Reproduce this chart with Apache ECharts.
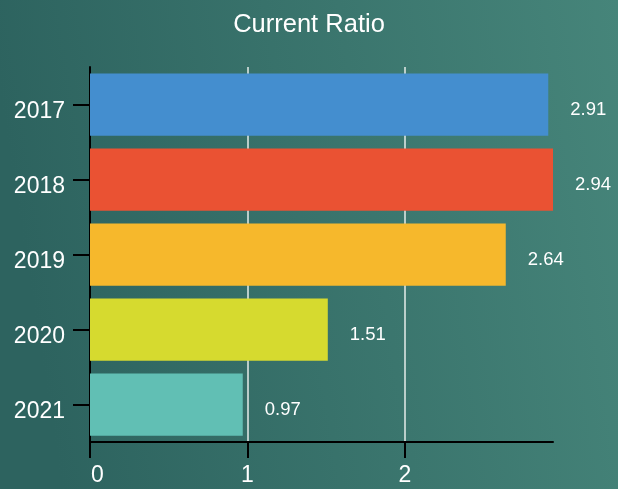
<!DOCTYPE html>
<html>
<head>
<meta charset="utf-8">
<script src="https://cdn.jsdelivr.net/npm/echarts@6/dist/echarts.min.js"></script>
<style>
  html, body { margin: 0; padding: 0; }
  #chart { width: 618px; height: 489px; }
</style>
</head>
<body>
<div id="chart"></div>
<script>
// Current ratio by fiscal year
const years = ['2017', '2018', '2019', '2020', '2021'];
const ratios = [2.91, 2.94, 2.64, 1.51, 0.97];
const barColors = ['#448ecf', '#ea5233', '#f6b82c', '#d6da2f', '#61bfb4'];
const xTicks = [0, 1, 2];

const FONT = 'Liberation Sans, Arial, sans-serif';
const chart = echarts.init(document.getElementById('chart'), null, { renderer: 'canvas' });

const option = {
  backgroundColor: {
    type: 'linear', x: 0, y: 0.2, x2: 1, y2: 0,
    colorStops: [
      { offset: 0, color: '#2d635f' },
      { offset: 1, color: '#46857a' }
    ]
  },
  title: {
    text: 'Current Ratio',
    left: 'center',
    top: 7,
    textStyle: { color: '#ffffff', fontSize: 25.5, fontWeight: 'normal', fontFamily: FONT }
  },
  grid: { left: 90, right: 65, top: 67, bottom: 47, containLabel: false },
  xAxis: {
    type: 'value',
    min: 0,
    max: Math.max(...ratios),
    interval: 1,
    axisLine: { show: true, lineStyle: { color: '#000000', width: 2 } },
    axisTick: { show: true, length: 16, customValues: xTicks, lineStyle: { color: '#000000', width: 2 } },
    axisLabel: {
      color: '#ffffff', fontSize: 23, margin: 22, fontFamily: FONT,
      customValues: xTicks,
      formatter: v => (v === 0 ? '{first|0}' : String(v)),
      rich: {
        first: { color: '#ffffff', fontSize: 23, fontFamily: FONT, padding: [0, 0, 0, 15] }
      }
    },
    splitLine: { show: true, customValues: xTicks, lineStyle: { color: '#e6ecea', width: 1.5 } }
  },
  yAxis: {
    type: 'category',
    data: years,
    inverse: true,
    axisLine: { show: true, lineStyle: { color: '#000000', width: 2 } },
    axisTick: { show: true, alignWithLabel: true, length: 17, lineStyle: { color: '#000000', width: 2 } },
    axisLabel: {
      color: '#ffffff', fontSize: 23, margin: 25, fontFamily: FONT,
      formatter: v => '{yr|' + v + '}',
      rich: {
        yr: { color: '#ffffff', fontSize: 23, fontFamily: FONT, padding: [14, 0, 0, 0] }
      }
    },
    splitLine: { show: false }
  },
  series: [{
    type: 'bar',
    data: ratios.map((v, i) => ({ value: v, itemStyle: { color: barColors[i] } })),
    barCategoryGap: '17%',
    label: {
      show: true,
      position: 'right',
      distance: 22,
      offset: [0, 5],
      color: '#ffffff',
      fontSize: 18.5,
      fontFamily: FONT,
      formatter: p => p.value.toFixed(2)
    },
    animation: false
  }]
};

chart.setOption(option);
</script>
</body>
</html>
